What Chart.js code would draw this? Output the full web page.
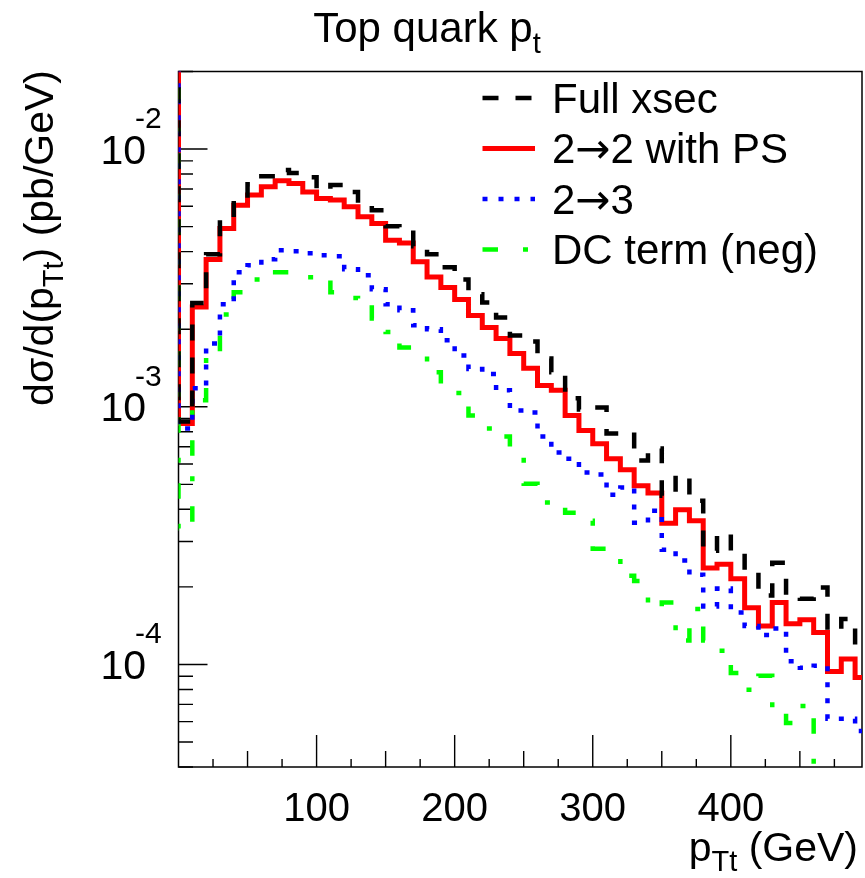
<!DOCTYPE html>
<html>
<head>
<meta charset="utf-8">
<script src="https://cdn.jsdelivr.net/npm/chart.js@4.4.0/dist/chart.umd.min.js"></script>
<style>
  html, body { margin: 0; padding: 0; background: #fff; }
</style>
</head>
<body>
<canvas id="ptChart" width="865" height="878"></canvas>
<script>
// ----- Data -----
// Lower bin edges in GeV; the first bin (-10..0) sits left of the frame,
// its content is off the top of the plot so only the drop at x=0 shows.
var binLowEdges = [-10, 0, 10, 20, 30, 40, 50, 60, 70, 80, 90, 100, 110, 120, 130, 140,
  150, 160, 170, 180, 190, 200, 210, 220, 230, 240, 250, 260, 270, 280, 290, 300,
  310, 320, 330, 340, 350, 360, 370, 380, 390, 400, 410, 420, 430, 440, 450, 460,
  470, 480, 490];
var binWidth = 10;

var fullXsec = [0.05,
  8.77e-4, 2.53e-3, 3.91e-3, 5.34e-3, 6.45e-3, 7.31e-3, 7.85e-3, 8.29e-3, 8.07e-3, 7.78e-3,
  6.93e-3, 7.25e-3, 6.81e-3, 6.17e-3, 5.79e-3, 5.02e-3, 4.93e-3, 4.20e-3, 3.91e-3, 3.48e-3,
  3.12e-3, 2.73e-3, 2.54e-3, 2.22e-3, 1.89e-3, 1.79e-3, 1.54e-3, 1.36e-3, 1.08e-3, 9.76e-4,
  9.94e-4, 7.88e-4, 7.95e-4, 6.19e-4, 6.88e-4, 4.52e-4, 5.41e-4, 4.32e-4, 2.76e-4, 3.22e-4,
  2.74e-4, 2.31e-4, 1.85e-4, 2.48e-4, 1.85e-4, 1.80e-4, 1.99e-4, 1.35e-4, 1.50e-4, 1.13e-4];

var twoToTwoPS = [0.05,
  8.61e-4, 2.44e-3, 3.73e-3, 4.92e-3, 6.06e-3, 6.63e-3, 7.14e-3, 7.53e-3, 7.36e-3, 6.82e-3,
  6.43e-3, 6.34e-3, 5.97e-3, 5.46e-3, 5.14e-3, 4.43e-3, 4.32e-3, 3.65e-3, 3.19e-3, 2.90e-3,
  2.61e-3, 2.26e-3, 2.03e-3, 1.84e-3, 1.61e-3, 1.41e-3, 1.21e-3, 1.16e-3, 9.25e-4, 8.09e-4,
  7.18e-4, 6.28e-4, 5.69e-4, 4.94e-4, 4.63e-4, 3.53e-4, 3.98e-4, 3.61e-4, 2.37e-4, 2.45e-4,
  2.15e-4, 1.66e-4, 1.41e-4, 1.74e-4, 1.44e-4, 1.49e-4, 1.33e-4, 9.38e-5, 1.05e-4, 8.89e-5];

var twoToThree = [0.05,
  8.23e-4, 1.18e-3, 1.76e-3, 2.50e-3, 3.33e-3, 3.54e-3, 3.74e-3, 4.05e-3, 4.01e-3, 3.94e-3,
  3.87e-3, 3.84e-3, 3.42e-3, 3.24e-3, 2.86e-3, 2.50e-3, 2.37e-3, 2.07e-3, 2.00e-3, 1.81e-3,
  1.58e-3, 1.40e-3, 1.34e-3, 1.16e-3, 9.67e-4, 9.50e-4, 7.66e-4, 6.65e-4, 6.29e-4, 5.56e-4,
  5.46e-4, 4.56e-4, 4.86e-4, 3.55e-4, 3.95e-4, 2.79e-4, 2.53e-4, 2.23e-4, 1.68e-4, 1.97e-4,
  1.59e-4, 1.41e-4, 1.30e-4, 1.38e-4, 1.03e-4, 9.70e-5, 9.88e-5, 6.15e-5, 6.15e-5, 5.52e-5];

var dcTermNeg = [0.05,
  3.37e-4, 1.06e-3, 1.57e-3, 2.28e-3, 2.78e-3, 3.12e-3, 3.21e-3, 3.33e-3, 3.33e-3, 3.18e-3,
  3.10e-3, 2.78e-3, 2.64e-3, 2.43e-3, 2.20e-3, 1.95e-3, 1.70e-3, 1.57e-3, 1.36e-3, 1.23e-3,
  1.13e-3, 9.25e-4, 8.23e-4, 7.66e-4, 6.95e-4, 5.03e-4, 4.25e-4, 4.25e-4, 3.88e-4, 3.61e-4,
  2.81e-4, 2.64e-4, 2.21e-4, 2.11e-4, 1.66e-4, 1.74e-4, 1.24e-4, 1.64e-4, 1.24e-4, 1.13e-4,
  9.27e-5, 7.97e-5, 9.03e-5, 6.66e-5, 5.93e-5, 6.90e-5, 3.0e-5, 3.0e-5, 3.0e-5, 3.0e-5];

var seriesLabels = ['Full xsec', '2\u21922 with PS', '2\u21923', 'DC term (neg)'];
var xLabelValues = [100, 200, 300, 400];
var xTickLabels = ['100', '200', '300', '400'];
var yDecadeExponents = [-2, -3, -4];
var yTickLabels = ['-2', '-3', '-4'];

var FONT = '"Liberation Sans", Arial, Helvetica, sans-serif';
var ARROW_FONT = '"DejaVu Sans", sans-serif';

// histogram -> step points (left edge of each bin, plus the closing right edge)
function toSteps(values) {
  var pts = binLowEdges.map(function(x, i) { return { x: x, y: values[i] }; });
  var last = binLowEdges.length - 1;
  pts.push({ x: binLowEdges[last] + binWidth, y: values[last] });
  return pts;
}

// draw a run of text pieces (for sub/superscripts and the arrow glyph)
function drawPieces(ctx, x, y, pieces, align) {
  var total = 0;
  pieces.forEach(function(p) {
    ctx.font = p.size + 'px ' + (p.family || FONT);
    p.w = ctx.measureText(p.t).width;
    total += p.w;
  });
  var cx = x;
  if (align === 'right') cx = x - total;
  if (align === 'center') cx = x - total / 2;
  pieces.forEach(function(p) {
    ctx.font = p.size + 'px ' + (p.family || FONT);
    ctx.fillText(p.t, cx, y + (p.dy || 0));
    cx += p.w;
  });
}

// split a label so the arrow uses a font with a long thin arrow
function labelPieces(text, size) {
  var parts = text.split('\u2192');
  var out = [];
  parts.forEach(function(s, i) {
    if (i > 0) out.push({ t: '\u2192', size: size, family: ARROW_FONT });
    if (s) out.push({ t: s, size: size });
  });
  return out;
}

// ROOT-like frame, inward ticks and labels
var rootAxes = {
  id: 'rootAxes',
  beforeDatasetsDraw: function(chart) {
    var ctx = chart.ctx, a = chart.chartArea;
    var xs = chart.scales.x, ys = chart.scales.y;
    ctx.save();
    ctx.strokeStyle = '#000';
    ctx.lineWidth = 1.5;
    ctx.strokeRect(a.left, a.top, a.right - a.left, a.bottom - a.top);

    // x ticks every 25 GeV
    ctx.lineWidth = 1.4;
    ctx.beginPath();
    for (var v = 25; v < xs.max; v += 25) {
      var px = xs.getPixelForValue(v);
      var len = (v % 100 === 0) ? 32 : (v % 50 === 0 ? 16 : 8);
      ctx.moveTo(px, a.bottom);
      ctx.lineTo(px, a.bottom - len);
    }
    // y ticks: decades long, 2..9 short
    for (var d = -5; d <= -1; d++) {
      for (var m = 1; m <= 9; m++) {
        var val = m * Math.pow(10, d);
        if (val < ys.min || val > ys.max) continue;
        var py = ys.getPixelForValue(val);
        var l = (m === 1) ? 29 : 14.5;
        ctx.moveTo(a.left, py);
        ctx.lineTo(a.left + l, py);
      }
    }
    ctx.stroke();
    ctx.restore();
  },
  afterDraw: function(chart) {
    var ctx = chart.ctx;
    var xs = chart.scales.x, ys = chart.scales.y;
    ctx.save();
    ctx.fillStyle = '#000';
    ctx.textBaseline = 'alphabetic';

    // x tick labels
    ctx.font = '40px ' + FONT;
    ctx.textAlign = 'center';
    xLabelValues.forEach(function(v, i) {
      ctx.fillText(xTickLabels[i], xs.getPixelForValue(v), 821);
    });

    // y tick labels 10^n
    yDecadeExponents.forEach(function(e, i) {
      var py = ys.getPixelForValue(Math.pow(10, e));
      ctx.textAlign = 'right';
      ctx.font = '41px ' + FONT;
      ctx.fillText('10', 146, py + 14.7);
      ctx.textAlign = 'left';
      ctx.font = '30px ' + FONT;
      ctx.fillText(yTickLabels[i], 135, py - 21);
    });

    ctx.textAlign = 'left';
    // title
    drawPieces(ctx, 427, 42, [
      { t: 'Top quark p', size: 42 },
      { t: 't', size: 29, dy: 11 }
    ], 'center');

    // x axis title
    drawPieces(ctx, 858, 861, [
      { t: 'p', size: 41 },
      { t: 'Tt', size: 29, dy: 10 },
      { t: ' (GeV)', size: 41 }
    ], 'right');

    // y axis title (rotated)
    ctx.save();
    ctx.translate(53, 70);
    ctx.rotate(-Math.PI / 2);
    drawPieces(ctx, 0, 0, [
      { t: 'd\u03c3/d(p', size: 41 },
      { t: 'Tt', size: 29, dy: 10 },
      { t: ') (pb/GeV)', size: 41 }
    ], 'right');
    ctx.restore();

    // legend
    var rows = [98, 148.5, 199, 249.5];
    chart.data.datasets.forEach(function(ds, r) {
      ctx.save();
      ctx.strokeStyle = ds.borderColor;
      ctx.lineWidth = ds.borderWidth;
      ctx.lineCap = 'butt';
      ctx.setLineDash(ds.borderDash || []);
      ctx.beginPath();
      ctx.moveTo(482.5, rows[r]);
      ctx.lineTo(535, rows[r]);
      ctx.stroke();
      ctx.restore();
      drawPieces(ctx, 552, rows[r] + 14.5, labelPieces(ds.label, 42), 'left');
    });
    ctx.restore();
  }
};

var canvas = document.getElementById('ptChart');
var chart = new Chart(canvas.getContext('2d'), {
  type: 'line',
  data: {
    datasets: [
      {
        label: seriesLabels[0],
        data: toSteps(fullXsec),
        borderColor: '#000000',
        borderWidth: 4.5,
        borderDash: [16, 17],
        order: 1
      },
      {
        label: seriesLabels[1],
        data: toSteps(twoToTwoPS),
        borderColor: '#ff0000',
        borderWidth: 5,
        borderDash: [],
        order: 4
      },
      {
        label: seriesLabels[2],
        data: toSteps(twoToThree),
        borderColor: '#0000ff',
        borderWidth: 4.5,
        borderDash: [5, 11],
        order: 2
      },
      {
        label: seriesLabels[3],
        data: toSteps(dcTermNeg),
        borderColor: '#00ff00',
        borderWidth: 4.5,
        borderDash: [15.5, 25, 5, 20.5],
        order: 3
      }
    ]
  },
  options: {
    responsive: false,
    animation: false,
    events: [],
    layout: { padding: { left: 178.5, top: 71.5, right: 3, bottom: 111 } },
    datasets: {
      line: {
        stepped: true,
        pointRadius: 0,
        fill: false,
        tension: 0,
        borderCapStyle: 'butt',
        borderJoinStyle: 'miter',
        clip: 0
      }
    },
    plugins: {
      legend: { display: false },
      tooltip: { enabled: false },
      title: { display: false }
    },
    scales: {
      x: { type: 'linear', min: 0, max: 495, display: false },
      y: { type: 'logarithmic', min: 4e-5, max: 0.02, display: false }
    }
  },
  plugins: [rootAxes]
});
</script>
</body>
</html>
